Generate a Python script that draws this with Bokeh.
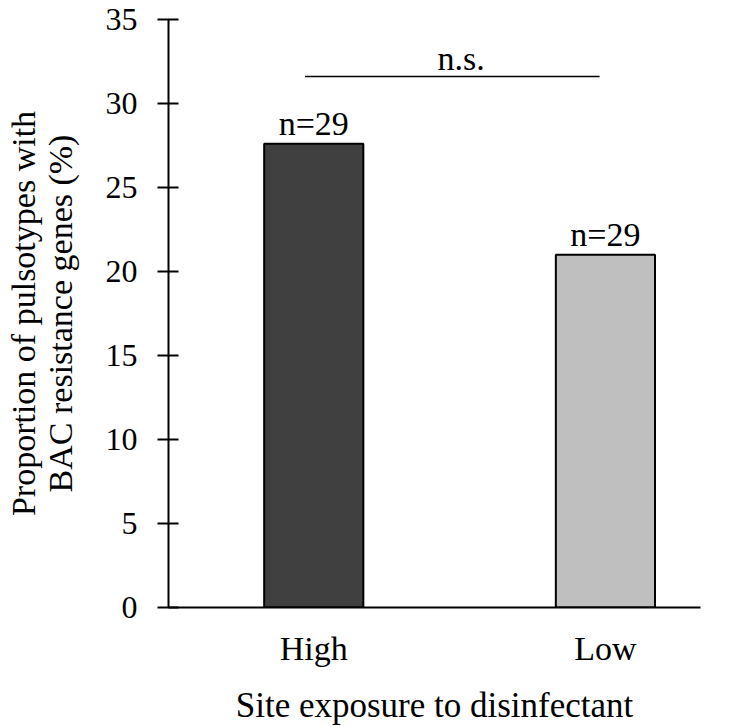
from bokeh.plotting import figure
from bokeh.models import ColumnDataSource, Range1d, FixedTicker
from bokeh.embed import file_html
from bokeh.resources import INLINE
from bokeh.core.properties import value

categories = ["High", "Low"]
proportions = [27.6, 21.0]
n_labels = ["n=29", "n=29"]
bar_colors = ["#404040", "#bfbfbf"]
y_ticks = [0, 5, 10, 15, 20, 25, 30, 35]
sig_text = "n.s."
sig_level = 31.6

FONT = "Liberation Serif"
xpos = [i + 1 for i in range(len(categories))]

W, H = 740, 727
p = figure(width=W, height=H, output_backend="svg", toolbar_location=None,
           x_range=Range1d(0.502, 2.326), y_range=Range1d(0, 35),
           min_border_left=168, min_border_right=40, min_border_top=19,
           min_border_bottom=119)
p.outline_line_color = None
p.grid.visible = False
p.background_fill_color = "white"

src = ColumnDataSource(dict(x=xpos, top=proportions, color=bar_colors,
                            lab=n_labels, ly=[v + 1.2 for v in proportions]))
p.vbar(x="x", top="top", bottom=0, width=0.34, fill_color="color",
       line_color="black", line_width=2, source=src)
p.text(x="x", y="ly", text="lab", source=src, text_align="center",
       text_baseline="alphabetic", text_font=value(FONT), text_font_size="34px",
       text_color="black")

# significance bar
p.line(x=[xpos[0] - 0.03, xpos[1] - 0.02], y=[sig_level, sig_level],
       line_color="black", line_width=1.5)
p.text(x=[(xpos[0] + xpos[1]) / 2 + 0.005], y=[sig_level + 1.1], text=[sig_text],
       text_align="center", text_baseline="alphabetic", text_font=value(FONT),
       text_font_size="34px", text_color="black")

# axes
for ax in (p.xaxis, p.yaxis):
    ax.axis_line_width = 2
    ax.axis_line_color = "black"
    ax.major_label_text_color = "black"
    ax.axis_label_text_color = "black"
    ax.major_label_text_font = FONT
    ax.axis_label_text_font = FONT
    ax.axis_label_text_font_style = "normal"
    ax.minor_tick_line_color = None

p.yaxis.ticker = FixedTicker(ticks=y_ticks)
p.yaxis.major_tick_in = 10
p.yaxis.major_tick_out = 11
p.yaxis.major_tick_line_width = 2
p.yaxis.major_tick_line_color = "black"
p.yaxis.major_label_text_font_size = "32px"
p.yaxis.major_label_standoff = 20
p.yaxis.axis_label = "Proportion of pulsotypes with\nBAC resistance genes (%)"
p.yaxis.axis_label_text_font_size = "34px"
p.yaxis.axis_label_text_line_height = 1.0
p.yaxis.axis_label_standoff = 24

p.xaxis.ticker = FixedTicker(ticks=xpos)
p.xaxis.major_label_overrides = {x: c for x, c in zip(xpos, categories)}
p.xaxis.major_tick_line_color = None
p.xaxis.major_tick_in = 0
p.xaxis.major_tick_out = 0
p.xaxis.major_label_text_font_size = "34px"
p.xaxis.major_label_standoff = 22
p.xaxis.axis_label = "Site exposure to disinfectant"
p.xaxis.axis_label_text_font_size = "35px"
p.xaxis.axis_label_standoff = 16

open("out.html", "w").write(file_html(p, INLINE))
